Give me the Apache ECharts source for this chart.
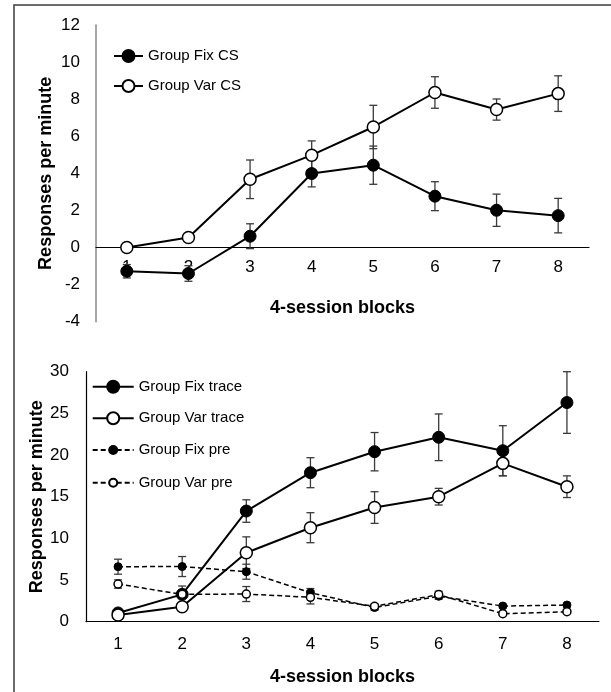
<!DOCTYPE html>
<html>
<head>
<meta charset="utf-8">
<script src="https://cdn.jsdelivr.net/npm/echarts@6/dist/echarts.min.js"></script>
<style>
  html, body { margin: 0; padding: 0; background: #fff; }
  #chart { width: 611px; height: 692px; }
</style>
</head>
<body>
<div id="chart"></div>
<script>
// bloques de 4 sesiones
const blocks = ["1", "2", "3", "4", "5", "6", "7", "8"];

// panel superior
const fixCS = [-1.28, -1.4, 0.61, 3.99, 4.44, 2.77, 2.01, 1.72];
const fixCSErr = [0.36, 0.42, 0.67, 0.72, 1.03, 0.78, 0.87, 0.93];
const varCS = [0, 0.54, 3.68, 4.98, 6.5, 8.36, 7.44, 8.3];
const varCSErr = [0.1, 0.15, 1.04, 0.77, 1.17, 0.85, 0.57, 0.96];

// panel inferior
const fixTrace = [1.05, 3.28, 13.28, 17.88, 20.4, 22.13, 20.52, 26.3];
const fixTraceErr = [0.3, 0.5, 1.35, 1.8, 2.3, 2.8, 3.0, 3.7];
const varTrace = [0.8, 1.8, 8.28, 11.28, 13.7, 15.0, 19.0, 16.2];
const varTraceErr = [0.3, 0.4, 1.9, 1.8, 1.9, 1.0, 1.5, 1.3];
const fixPre = [6.6, 6.62, 6.0, 3.48, 1.7, 3.05, 1.88, 2.0];
const fixPreErr = [0.9, 1.2, 0.9, 0.5, 0.3, 0.35, 0.2, 0.2];
const varPre = [4.52, 3.28, 3.32, 2.93, 1.85, 3.25, 0.96, 1.2];
const varPreErr = [0.5, 1.0, 0.9, 0.8, 0.3, 0.4, 0.2, 0.2];

const font = "'Liberation Sans', Arial, sans-serif";

function renderErr(params, api) {
  const lo = api.coord([api.value(0), api.value(1)]);
  const hi = api.coord([api.value(0), api.value(2)]);
  const w = 4;
  const style = { stroke: "#3a3a3a", lineWidth: 1.3 };
  return {
    type: "group",
    children: [
      { type: "line", shape: { x1: lo[0], y1: lo[1], x2: hi[0], y2: hi[1] }, style },
      { type: "line", shape: { x1: lo[0] - w, y1: lo[1], x2: lo[0] + w, y2: lo[1] }, style },
      { type: "line", shape: { x1: hi[0] - w, y1: hi[1], x2: hi[0] + w, y2: hi[1] }, style }
    ]
  };
}

function errSeries(vals, errs, idx) {
  return {
    type: "custom",
    xAxisIndex: idx,
    yAxisIndex: idx,
    z: 2,
    silent: true,
    renderItem: renderErr,
    encode: { x: 0, y: [1, 2] },
    data: vals.map((v, i) => [i, v - errs[i], v + errs[i]])
  };
}

function lineSeries(name, vals, idx, filled, size, dashed) {
  return {
    name: name,
    type: "line",
    xAxisIndex: idx,
    yAxisIndex: idx,
    z: 3,
    symbol: "circle",
    symbolSize: size,
    data: vals,
    lineStyle: { color: "#000", width: dashed ? 1.5 : 2, type: dashed ? [5, 3] : "solid" },
    itemStyle: filled
      ? { color: "#000", borderColor: "#000", borderWidth: 1 }
      : { color: "#fff", borderColor: "#000", borderWidth: 1.5 }
  };
}

const axisLabel = { color: "#000", fontSize: 17, fontFamily: font };
const nameStyle = { color: "#000", fontSize: 18, fontWeight: "bold", fontFamily: font };
const legendText = { color: "#000", fontSize: 15, fontFamily: font, lineHeight: 15 };

const chart = echarts.init(document.getElementById("chart"));

const option = {
  animation: false,
  backgroundColor: "#fff",
  graphic: [
    {
      type: "rect",
      silent: true,
      z: -1,
      shape: { x: 14, y: 5, width: 800, height: 800 },
      style: { fill: "none", stroke: "#3c3c3c", lineWidth: 1.5 }
    }
  ],
  grid: [
    { left: 96, right: 22, top: 25, height: 296.7 },
    { left: 86, right: 12, top: 371.7, height: 250 }
  ],
  legend: [
    {
      data: ["Group Fix CS", "Group Var CS"],
      orient: "vertical",
      left: 113,
      top: 48.5,
      padding: 0,
      itemWidth: 29,
      itemHeight: 15,
      itemGap: 15,
      selectedMode: false,
      textStyle: legendText
    },
    {
      data: ["Group Fix trace", "Group Var trace"],
      orient: "vertical",
      left: 91.7,
      top: 379.2,
      padding: 0,
      itemWidth: 41,
      itemHeight: 15,
      itemGap: 16.6,
      selectedMode: false,
      textStyle: legendText
    },
    {
      data: ["Group Fix pre", "Group Var pre"],
      orient: "vertical",
      left: 91.7,
      top: 442.5,
      padding: 0,
      itemWidth: 41,
      itemHeight: 10,
      itemGap: 17.7,
      selectedMode: false,
      textStyle: legendText
    }
  ],
  xAxis: [
    {
      type: "category",
      gridIndex: 0,
      data: blocks,
      name: "4-session blocks",
      nameLocation: "middle",
      nameGap: 52,
      nameTextStyle: nameStyle,
      offset: -74.4,
      axisLine: { onZero: false, lineStyle: { color: "#000", width: 1.2 } },
      axisTick: { show: false },
      axisLabel: Object.assign({ margin: 12 }, axisLabel),
      splitLine: { show: false }
    },
    {
      type: "category",
      gridIndex: 1,
      data: blocks,
      name: "4-session blocks",
      nameLocation: "middle",
      nameGap: 46,
      nameTextStyle: nameStyle,
      axisLine: { lineStyle: { color: "#000", width: 1.2 } },
      axisTick: { show: false },
      axisLabel: Object.assign({ margin: 14 }, axisLabel),
      splitLine: { show: false }
    }
  ],
  yAxis: [
    {
      type: "value",
      gridIndex: 0,
      min: -4,
      max: 12,
      interval: 2,
      name: "Responses per minute",
      nameLocation: "middle",
      nameGap: 41,
      nameMoveOverlap: false,
      nameTextStyle: nameStyle,
      axisLine: { show: true, lineStyle: { color: "#888", width: 1.5 } },
      axisTick: { show: false },
      axisLabel: Object.assign({ margin: 16 }, axisLabel),
      splitLine: { show: false }
    },
    {
      type: "value",
      gridIndex: 1,
      min: 0,
      max: 30,
      interval: 5,
      name: "Responses per minute",
      nameLocation: "middle",
      nameGap: 40,
      nameMoveOverlap: false,
      nameTextStyle: nameStyle,
      axisLine: { show: true, lineStyle: { color: "#000", width: 1.2 } },
      axisTick: { show: false },
      axisLabel: Object.assign({ margin: 17 }, axisLabel),
      splitLine: { show: false }
    }
  ],
  series: [
    errSeries(fixCS, fixCSErr, 0),
    errSeries(varCS, varCSErr, 0),
    lineSeries("Group Fix CS", fixCS, 0, true, 12, false),
    lineSeries("Group Var CS", varCS, 0, false, 12, false),
    errSeries(fixTrace, fixTraceErr, 1),
    errSeries(varTrace, varTraceErr, 1),
    errSeries(fixPre, fixPreErr, 1),
    errSeries(varPre, varPreErr, 1),
    lineSeries("Group Fix trace", fixTrace, 1, true, 12, false),
    lineSeries("Group Var trace", varTrace, 1, false, 12, false),
    lineSeries("Group Fix pre", fixPre, 1, true, 8, true),
    lineSeries("Group Var pre", varPre, 1, false, 8, true)
  ]
};

chart.setOption(option);
</script>
</body>
</html>
